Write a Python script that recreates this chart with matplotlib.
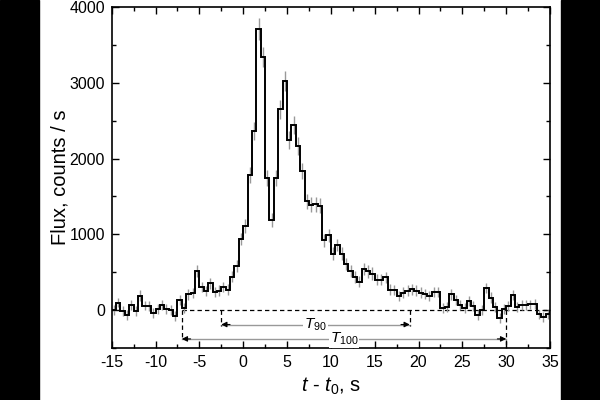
import numpy as np
import matplotlib
matplotlib.use("Agg")
import matplotlib.pyplot as plt
from matplotlib.patches import Rectangle
from matplotlib.ticker import MultipleLocator

plt.rcParams['font.family'] = ['Liberation Sans', 'DejaVu Sans']
plt.rcParams['mathtext.fontset'] = 'custom'
plt.rcParams['mathtext.rm'] = 'Liberation Sans'
plt.rcParams['mathtext.it'] = 'Liberation Sans:italic'
plt.rcParams['axes.unicode_minus'] = False

# ---- data ----
bin_start = -15.0
bin_width = 0.5
flux = [0, 100, -10, -65, 63, -10, 190, 60, 55, -35,
        20, 63, 10, 0, -77, 130, 25, 210, 228, 513,
        307, 250, 355, 237, 255, 307, 268, 440, 579, 939,
        1114, 1777, 2364, 3715, 3342, 1742, 1193, 1742, 2650, 3022,
        2246, 2443, 2167, 1840, 1434, 1390, 1395, 1375, 920, 985,
        745, 860, 745, 608, 513, 437, 375, 540, 510, 483,
        400, 400, 432, 270, 263, 185, 232, 256, 272, 256,
        232, 213, 184, 237, 237, 31, 40, 210, 130, 70,
        31, 122, 50, -63, 5, 294, 163, 44, -100, 18,
        50, 197, 44, 62, 62, 75, 80, -57, -92, -57]
flux_err = [65, 65, 65, 65, 65, 65, 70, 65, 65, 65,
            65, 65, 65, 65, 65, 65, 65, 70, 70, 80,
            70, 70, 75, 70, 70, 70, 70, 75, 80, 85,
            90, 105, 115, 145, 135, 105, 95, 105, 125, 130,
            115, 120, 115, 105, 100, 100, 100, 100, 90, 90,
            85, 85, 85, 80, 80, 75, 75, 80, 80, 80,
            75, 75, 75, 70, 70, 70, 70, 70, 70, 70,
            70, 70, 70, 70, 70, 65, 65, 70, 65, 65,
            65, 65, 65, 65, 65, 70, 70, 65, 65, 65,
            65, 70, 65, 65, 65, 65, 65, 65, 65, 65]
t90_start, t90_end = -2.5, 19.0
t100_start, t100_end = -7.0, 30.0
t90_level, t100_level = -190, -380

flux = np.array(flux, dtype=float)
flux_err = np.array(flux_err, dtype=float)
edges = bin_start + bin_width * np.arange(len(flux) + 1)
centers = 0.5 * (edges[:-1] + edges[1:])

fig = plt.figure(figsize=(6, 4), dpi=100)
fig.patches.append(Rectangle((0, 0), 39 / 600, 1, transform=fig.transFigure,
                             color='black', zorder=-10))
fig.patches.append(Rectangle((561 / 600, 0), 39 / 600, 1, transform=fig.transFigure,
                             color='black', zorder=-10))
ax = fig.add_axes([111.7 / 600, 1 - 348 / 400, (550 - 111.7) / 600, (348 - 7) / 400])

ax.errorbar(centers, flux, yerr=flux_err, fmt='none', ecolor='#999999',
            elinewidth=1.0, capsize=0, zorder=2)
ax.stairs(flux, edges, color='black', linewidth=1.4, zorder=3)

# zero line and duration markers
ax.plot([t100_start, 35], [0, 0], ls=(0, (3.5, 2.5)), color='black', lw=0.9, zorder=1)
ax.plot([t100_start, t100_start], [0, -400], ls=(0, (3.5, 2.5)), color='black', lw=0.9)
ax.plot([t100_end, t100_end], [0, -500], ls=(0, (3.5, 2.5)), color='black', lw=0.9)
ax.plot([t90_start, t90_start], [0, -215], ls=(0, (3.5, 2.5)), color='black', lw=0.9)
ax.plot([t90_end, t90_end], [0, -215], ls=(0, (3.5, 2.5)), color='black', lw=0.9)

for (a, b, lev, lab) in [(t90_start, t90_end, t90_level, r'$T_{90}$'),
                         (t100_start, t100_end, t100_level, r'$T_{100}$')]:
    ax.plot([a, b], [lev, lev], color='#999999', lw=1.0, zorder=1)
    for tip, tail in [(a, a + 1.0), (b, b - 1.0)]:
        ax.annotate('', xy=(tip, lev), xytext=(tail, lev),
                    arrowprops=dict(arrowstyle='-|>', color='black', lw=0.8,
                                    mutation_scale=8, shrinkA=0, shrinkB=0))
    ax.text(0.5 * (a + b), lev, lab, ha='center', va='center', fontsize=11,
            bbox=dict(facecolor='white', edgecolor='none', pad=0.5), zorder=4)

ax.set_xlim(-15, 35)
ax.set_ylim(-500, 4000)
ax.xaxis.set_major_locator(MultipleLocator(5))
ax.xaxis.set_minor_locator(MultipleLocator(2.5))
ax.yaxis.set_major_locator(MultipleLocator(1000))
ax.yaxis.set_minor_locator(MultipleLocator(500))
ax.tick_params(which='both', direction='in', top=True, right=True, width=1.0,
               labelsize=11.5)
ax.tick_params(which='major', length=5, pad=5)
ax.tick_params(which='minor', length=3)
for s in ax.spines.values():
    s.set_linewidth(1.2)

ax.set_xlabel(r'$t$ - $t_0$, s', fontsize=14.5, labelpad=4)
ax.set_ylabel('Flux, counts / s', fontsize=14.5, labelpad=0)

fig.savefig('out.png', dpi=100)
